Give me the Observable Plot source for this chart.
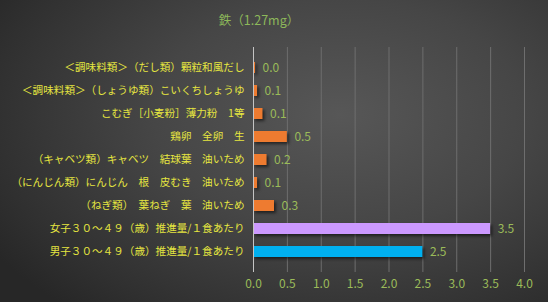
<!DOCTYPE html>
<html><head><meta charset="utf-8">
<script src="https://cdn.jsdelivr.net/npm/d3@7"></script>
<script src="https://cdn.jsdelivr.net/npm/@observablehq/plot@0.6"></script>
<style>
html,body{margin:0;padding:0;background:#2b2b2b;}
#wrap{width:548px;height:302px;overflow:hidden;
 background:radial-gradient(ellipse 75% 85% at 62% 38%, #575757 0%, #464646 45%, #303030 85%, #272727 100%);
 font-family:"Noto Sans CJK JP","Noto Sans",sans-serif;}
#title{height:40px;line-height:40px;text-align:center;color:#8DB85A;font-size:12.5px;padding-right:30px;}
g[aria-label="bar"] rect{filter:drop-shadow(2px 2px 1.5px rgba(0,0,0,0.55));}
g[aria-label="y-axis tick label"] text{font-size:10.6px;}
svg{display:block;}
</style></head>
<body><div id="wrap"><div id="title">鉄（1.27mg）</div></div>
<script>
const categories = [
  "＜調味料類＞（だし類）顆粒和風だし",
  "＜調味料類＞（しょうゆ類）こいくちしょうゆ",
  "こむぎ［小麦粉］薄力粉　1等",
  "鶏卵　全卵　生",
  "（キャベツ類）キャベツ　結球葉　油いため",
  "（にんじん類）にんじん　根　皮むき　油いため",
  "（ねぎ類）　葉ねぎ　葉　油いため",
  "女子３０～４９（歳）推進量/１食あたり",
  "男子３０～４９（歳）推進量/１食あたり"
];
const values = [0.03, 0.06, 0.14, 0.5, 0.2, 0.06, 0.31, 3.5, 2.5];
const groups = ["food","food","food","food","food","food","food","female","male"];
const xTicks = [0, 0.5, 1, 1.5, 2, 2.5, 3, 3.5, 4];

const data = categories.map((name, i) => ({name, value: values[i], group: groups[i]}));

const chart = Plot.plot({
  width: 548, height: 262,
  marginTop: 7, marginBottom: 30, marginLeft: 253, marginRight: 24,
  style: {background: "transparent", fontFamily: '"Noto Sans CJK JP","Noto Sans",sans-serif', fontSize: "12px"},
  x: {domain: [0, 4], label: null},
  y: {domain: categories, padding: 0.52, label: null},
  color: {domain: ["food","female","male"], range: ["#EE7B30","#CC99FF","#00B0F0"]},
  marks: [
    Plot.gridX(xTicks, {stroke: "#6e6e6e", strokeOpacity: 1}),
    Plot.axisX(xTicks, {tickSize: 0, tickPadding: 7, fill: "#9BBB59", tickFormat: d => d.toFixed(1), label: null}),
    Plot.axisY({tickSize: 0, tickPadding: 9, fill: "#E6E640", label: null}),
    Plot.barX(data, {x: "value", y: "name", fill: "group"}),
    Plot.ruleX([0], {stroke: "#c4c4c4"}),
    Plot.text(data, {x: "value", y: "name", text: d => d.value.toFixed(1), textAnchor: "start", dx: 7, fill: "#9BBB59"})
  ]
});
document.getElementById("wrap").appendChild(chart);
</script>
</body></html>
